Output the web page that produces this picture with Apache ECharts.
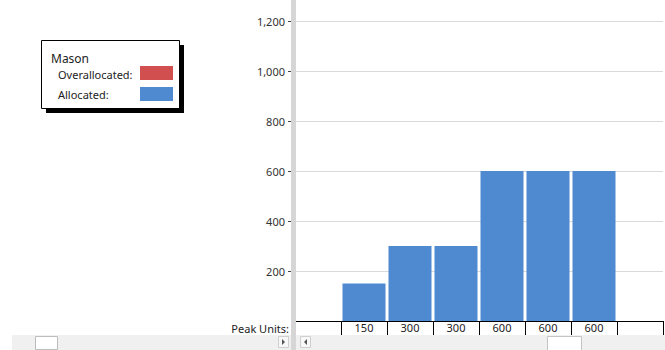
<!doctype html>
<html>
<head>
    <meta charset="utf-8">
    <title>Resource Graph</title>
    <script src="https://cdn.jsdelivr.net/npm/echarts@6/dist/echarts.min.js"></script>
    <style>
        html, body { margin: 0; padding: 0; background: #fff; }
        #chart { width: 665px; height: 350px; }
    </style>
</head>
<body>
<div id="chart"></div>
<script>
    // data
    var periods = ['P1', 'P2', 'P3', 'P4', 'P5', 'P6', 'P7', 'P8'];
    var allocated = [0, 150, 300, 300, 600, 600, 600, 0];
    var overallocated = [0, 0, 0, 0, 0, 0, 0, 0];
    var peakUnits = ['', '150', '300', '300', '600', '600', '600', ''];
    var yTicks = [200, 400, 600, 800, 1000, 1200];

    var blue = '#4f89d0';
    var red = '#d24f4f';
    var font = '"Noto Sans", "Open Sans", sans-serif';

    var myChart = echarts.init(document.getElementById('chart'), null, {renderer: 'svg'});

    var option = {
        animation: false,
        grid: {left: 295, right: 2, top: 21, bottom: 29},
        xAxis: {
            type: 'category',
            data: periods,
            boundaryGap: true,
            axisLine: {show: true, lineStyle: {color: '#000', width: 1}},
            axisTick: {show: true, length: 14, lineStyle: {color: '#000', width: 1}},
            axisLabel: {
                margin: 1,
                fontSize: 11,
                fontFamily: font,
                color: '#222',
                formatter: function (v, i) { return peakUnits[i]; }
            },
            splitLine: {show: false}
        },
        yAxis: {
            type: 'value',
            min: 0,
            max: 1200,
            interval: 200,
            offset: 4,
            axisLine: {show: false},
            axisTick: {show: true, length: 3, customValues: yTicks, lineStyle: {color: '#444'}},
            axisLabel: {
                margin: 6,
                fontSize: 11,
                fontFamily: font,
                color: '#333',
                customValues: yTicks,
                formatter: function (v) { return v.toLocaleString('en-US'); }
            },
            splitLine: {show: true, lineStyle: {color: '#d9d9d9', width: 1}}
        },
        series: [
            {
                name: 'Allocated',
                type: 'bar',
                stack: 'units',
                data: allocated,
                barWidth: 43,
                itemStyle: {color: blue}
            },
            {
                name: 'Overallocated',
                type: 'bar',
                stack: 'units',
                data: overallocated,
                barWidth: 43,
                itemStyle: {color: red}
            }
        ],
        graphic: [
            // splitter between the panes
            {type: 'rect', z: 10, shape: {x: 291, y: 0, width: 5, height: 350}, style: {fill: '#d6d6d6'}},
            // scroll bar strip
            {type: 'rect', z: 5, shape: {x: 12, y: 335, width: 653, height: 15}, style: {fill: '#f0f0f0'}},
            {type: 'rect', z: 6, shape: {x: 35.5, y: 336.5, width: 22, height: 13}, style: {fill: '#fff', stroke: '#bdbdbd', lineWidth: 1}},
            {type: 'rect', z: 6, shape: {x: 547.5, y: 336.5, width: 34, height: 14}, style: {fill: '#fff', stroke: '#c4c4c4', lineWidth: 1}},
            {type: 'rect', z: 6, shape: {x: 278.5, y: 336.5, width: 10, height: 11}, style: {fill: '#f8f8f8', stroke: '#cfcfcf', lineWidth: 1}},
            {type: 'polygon', z: 7, shape: {points: [[282, 339], [282, 345], [285, 342]]}, style: {fill: '#555'}},
            {type: 'rect', z: 6, shape: {x: 300.5, y: 336.5, width: 10, height: 11}, style: {fill: '#f8f8f8', stroke: '#cfcfcf', lineWidth: 1}},
            {type: 'polygon', z: 7, shape: {points: [[307, 339], [307, 345], [304, 342]]}, style: {fill: '#555'}},
            // row caption of the table
            {type: 'text', z: 8, style: {text: 'Peak Units:', x: 289, y: 328, align: 'right', verticalAlign: 'middle', font: '11px ' + font, fill: '#222'}},
            // resource legend box
            {type: 'rect', z: 8, shape: {x: 46, y: 45, width: 138, height: 68}, style: {fill: '#000'}},
            {type: 'rect', z: 9, shape: {x: 41.5, y: 40.5, width: 138, height: 68}, style: {fill: '#fff', stroke: '#000', lineWidth: 1}},
            {type: 'text', z: 10, style: {text: 'Mason', x: 51, y: 58, verticalAlign: 'middle', font: '12px ' + font, fill: '#222'}},
            {type: 'text', z: 10, style: {text: 'Overallocated:', x: 58, y: 74, verticalAlign: 'middle', font: '11px ' + font, fill: '#222'}},
            {type: 'rect', z: 10, shape: {x: 140, y: 66, width: 33, height: 14}, style: {fill: red}},
            {type: 'text', z: 10, style: {text: 'Allocated:', x: 58, y: 94, verticalAlign: 'middle', font: '11px ' + font, fill: '#222'}},
            {type: 'rect', z: 10, shape: {x: 140, y: 87, width: 33, height: 14}, style: {fill: blue}}
        ]
    };

    myChart.setOption(option);
</script>
</body>
</html>
